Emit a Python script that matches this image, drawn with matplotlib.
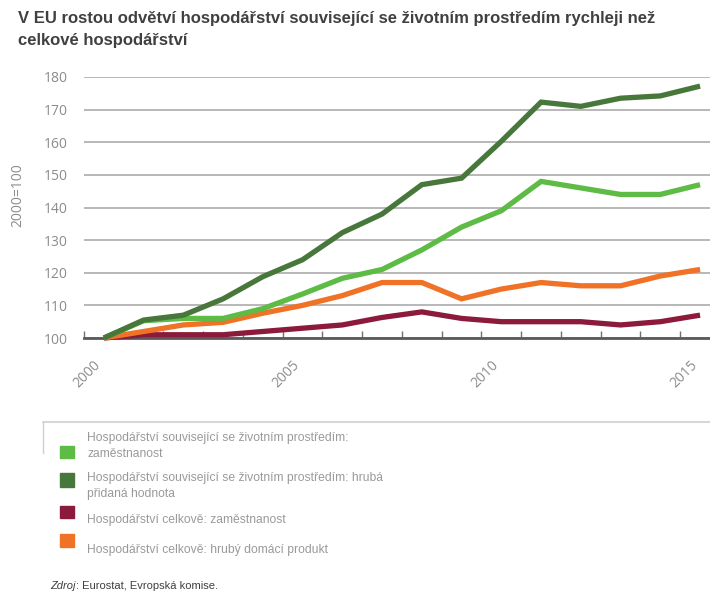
import matplotlib
matplotlib.use("Agg")
import matplotlib.pyplot as plt
from matplotlib.patches import Rectangle
from matplotlib.lines import Line2D
from matplotlib.transforms import ScaledTranslation

years = list(range(2000, 2016))
env_employment = [100, 105.3, 106, 106, 109, 113.5, 118.3, 121, 127, 134, 139, 148, 146, 144, 144, 147]
env_value_added = [100, 105.5, 107, 112, 118.8, 124, 132.3, 138, 147, 149, 160.3, 172.3, 171, 173.5, 174.2, 177.2]
total_employment = [100, 101, 101, 101, 102, 103, 104, 106.3, 108, 106, 105, 105, 105, 104, 105, 107]
total_gdp = [100, 102, 104, 104.8, 107.6, 110, 113, 117, 117, 112, 115, 117, 116, 116, 119, 121]

labels = ["Hospodářství související se životním prostředím:\nzaměstnanost",
          "Hospodářství související se životním prostředím: hrubá\npřidaná hodnota",
          "Hospodářství celkově: zaměstnanost",
          "Hospodářství celkově: hrubý domácí produkt"]
colors = ["#5DBB46", "#47773A", "#8C1A3A", "#F07226"]
yticks = [100, 110, 120, 130, 140, 150, 160, 170, 180]
xtick_years = [2000, 2005, 2010, 2015]

title = "V EU rostou odvětví hospodářství související se životním prostředím rychleji než\ncelkové hospodářství"
source_italic = "Zdroj"
source_rest = ": Eurostat, Evropská komise."

narrow = ['Liberation Sans Narrow', 'Liberation Sans', 'DejaVu Sans']
tickfont = ['Open Sans', 'DejaVu Sans']

W, H = 710, 591
fig = plt.figure(figsize=(W/100, H/100), dpi=100)
ax = fig.add_axes([84/W, 1-338/H, 626/W, 261/H])

series = [env_employment, env_value_added, total_employment, total_gdp]
order = [2, 3, 0, 1]
for i in order:
    ax.plot(years, series[i], color=colors[i], lw=3.8, solid_joinstyle='miter',
            solid_capstyle='butt', clip_on=False, zorder=3 + order.index(i))

ax.set_xlim(1999.5, 2015.25)
ax.set_ylim(100, 180)
ax.set_yticks(yticks)
ax.set_yticklabels([str(v) for v in yticks], family=tickfont)
ax.yaxis.grid(True, color="#A4A4A4", lw=1.1)
ax.set_axisbelow(True)
for s in ['top', 'right', 'left']:
    ax.spines[s].set_visible(False)
ax.spines['bottom'].set_color('#5A5A5A')
ax.spines['bottom'].set_linewidth(2)
ax.spines['bottom'].set_zorder(2)
ax.tick_params(axis='y', length=0, labelsize=10, labelcolor='#8C8C8C', pad=12)

ax.set_xticks([y - 0.5 for y in years], minor=True)
ax.set_xticks(xtick_years)
ax.set_xticklabels([str(y) for y in xtick_years], rotation=45, ha='right', va='center',
                   rotation_mode='anchor', family=tickfont)
ax.tick_params(axis='x', which='major', length=0, labelsize=10, labelcolor='#8C8C8C', pad=18)
ax.tick_params(axis='x', which='minor', direction='in', length=5, color='#707070', width=1)
for lab in ax.get_xticklabels():
    lab.set_transform(lab.get_transform() + ScaledTranslation(-5/100, 0, fig.dpi_scale_trans))

ax.set_ylabel("2000=100", color='#8C8C8C', fontsize=10, family=tickfont)
ax.yaxis.set_label_coords((25 - 84) / 626, (338 - 195) / 261)

fig.text(18/W, 1-11/H, title, fontsize=12, fontweight='bold', color='#404040',
         family=narrow, va='top', ha='left', linespacing=1.6)

# legend
fig.add_artist(Line2D([43/W, 1], [1-422/H, 1-422/H], color='#D0D0D0', lw=1.2))
fig.add_artist(Line2D([43/W, 43/W], [1-422/H, 1-453/H], color='#D0D0D0', lw=1.0))
sq = [(446, 458), (473, 487), (506, 518), (534, 547)]
txt_y = [446, 486, 520, 550]
for i in range(4):
    y0, y1 = sq[i]
    fig.add_artist(Rectangle((60/W, 1-y1/H), 14/W, (y1-y0)/H, color=colors[i],
                             transform=fig.transFigure))
    fig.text(87/W, 1-txt_y[i]/H, labels[i], fontsize=8.7, color='#9A9A9A', family=narrow,
             va='center', ha='left', linespacing=1.5)

t1 = fig.text(50/W, 1-591/H, source_italic, fontsize=8, color='#404040', style='italic',
              family=narrow, va='bottom', ha='left')
ax.annotate(source_rest, xy=(1, 0), xycoords=t1, va='bottom', ha='left', fontsize=8,
            color='#404040', family=narrow, annotation_clip=False)
fig.savefig("out.png", dpi=100)
